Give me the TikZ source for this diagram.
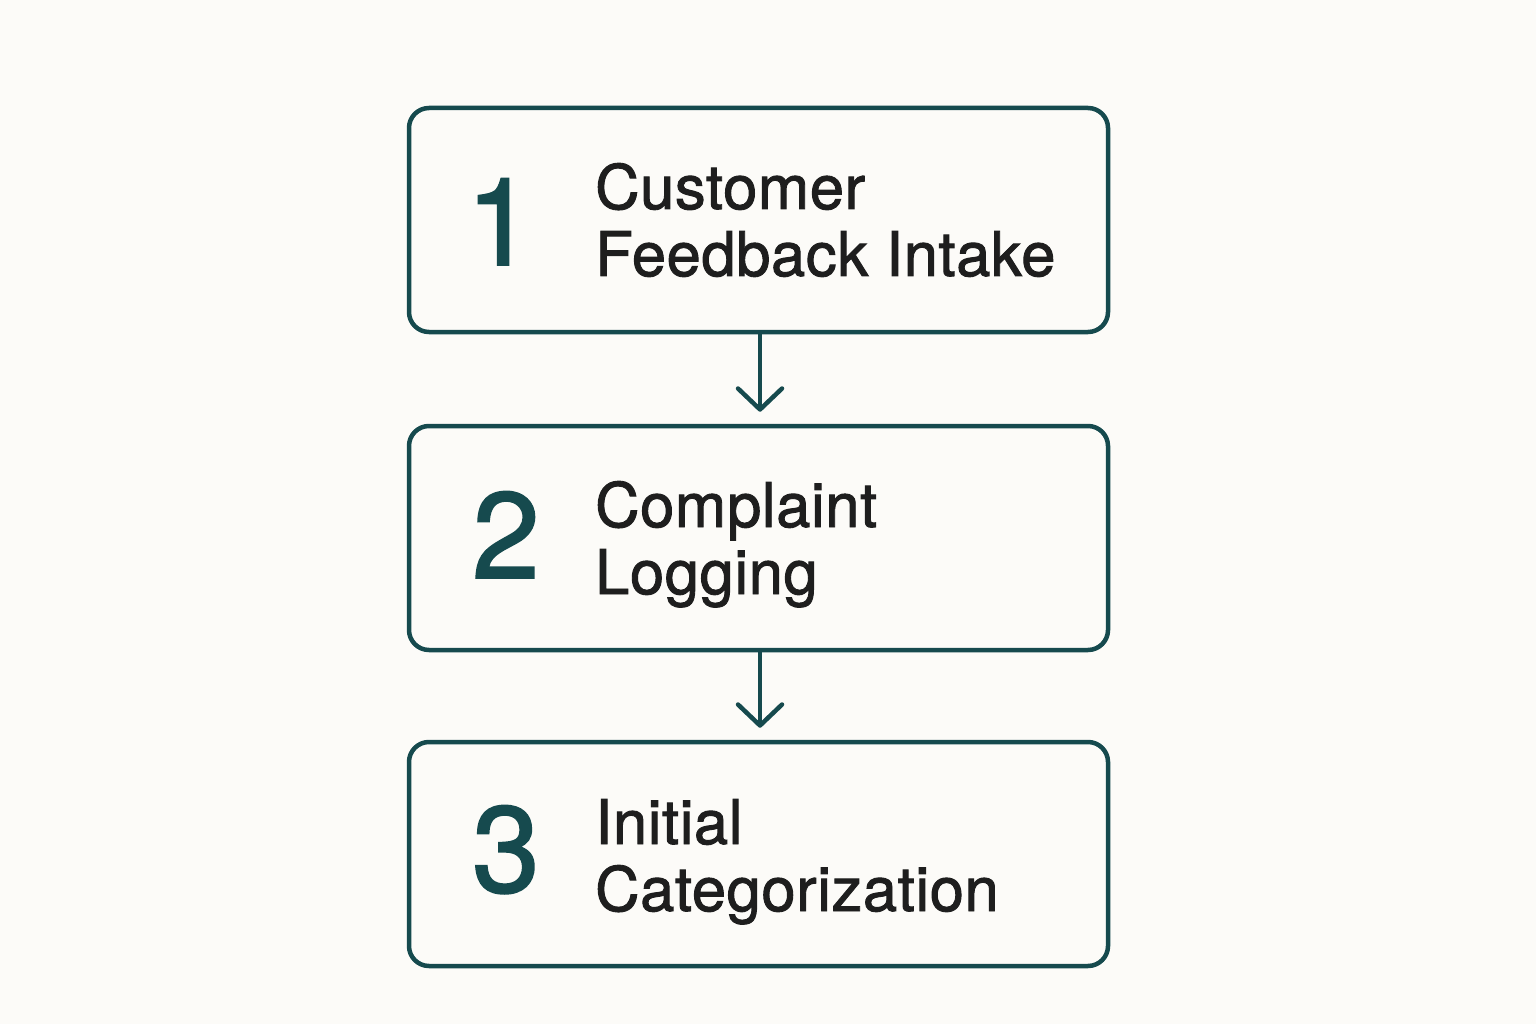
\documentclass[tikz,border=0pt]{standalone}
\usepackage{fontspec}
\setmainfont{TeX Gyre Heros}
\newfontfamily\heavyfont{TeX Gyre Heros}[FakeBold=1.5]
\newfontfamily\labelfont{TeX Gyre Heros}[FakeBold=1.5,LetterSpace=1]
\usetikzlibrary{arrows.meta}
\definecolor{teal}{HTML}{164A4E}
\definecolor{bg}{HTML}{FCFBF8}
\definecolor{ink}{HTML}{1E1E1E}
\begin{document}
\begin{tikzpicture}[x=1pt,y=-1pt,
  stepbox/.style={draw=teal,line width=4.5pt,rounded corners=20pt,rectangle,minimum width=699pt,minimum height=224pt,inner sep=0pt},
  num/.style={anchor=base,text=teal,font=\heavyfont\fontsize{122}{122}\selectfont,inner sep=0pt},
  lbl/.style={anchor=base west,text=ink,font=\labelfont\fontsize{61.5}{61.5}\selectfont,inner sep=0pt},
  arr/.style={draw=teal,line width=4.5pt,-{Straight Barb[length=21pt,width=44pt,round]},shorten >=12pt}]
\fill[bg] (0,0) rectangle (1536,1024);
\useasboundingbox (0,0) rectangle (1536,1024);
\node[stepbox] (b1) at (758.5,220) {};
\node[stepbox] (b2) at (758.5,538) {};
\node[stepbox] (b3) at (758.5,854) {};
\node[num] (n1) at (500,265) {1};
\node[num] (n2) at (506,578) {2};
\node[num] (n3) at (506,892) {3};
\node[lbl] (t1a) at (595,209) {Customer};
\node[lbl] (t1b) at (595,276) {Feedback Intake};
\node[lbl] (t2a) at (595,527) {Complaint};
\node[lbl] (t2b) at (595,594) {Logging};
\node[lbl] (t3a) at (595,844) {Initial};
\node[lbl] (t3b) at (595,911) {Categorization};
\draw[arr] (b1.south -| 760,0) -- (b2.north -| 760,0);
\draw[arr] (b2.south -| 760,0) -- (b3.north -| 760,0);
\end{tikzpicture}
\end{document}
